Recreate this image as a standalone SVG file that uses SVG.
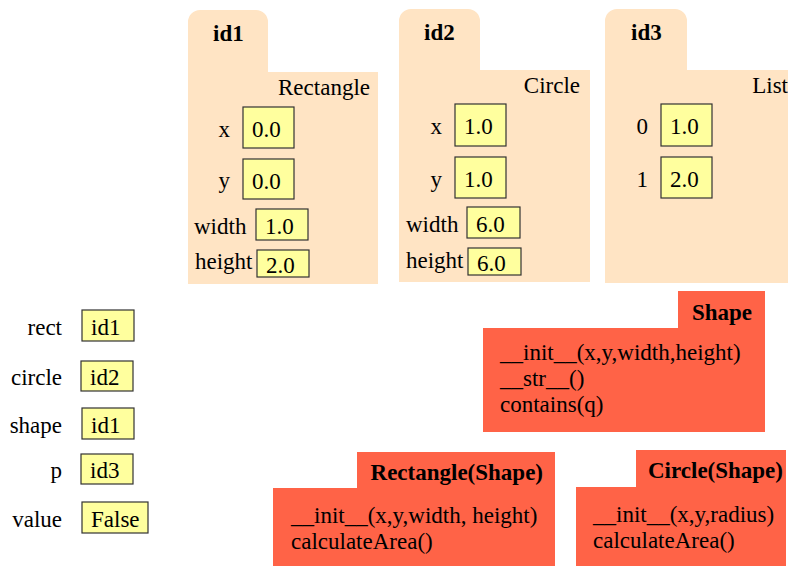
<svg xmlns="http://www.w3.org/2000/svg" width="788" height="567" viewBox="0 0 788 567" font-family="Liberation Serif, Tinos, Times New Roman, Times, serif" font-size="23">
<style>
.b{font-weight:bold}
.e{text-anchor:end}
.folder{fill:#FFE4C4}
.val{fill:#FFFF9E;stroke:#333;stroke-width:1.2}
.cls{fill:#FF6347}
</style>
<rect width="788" height="567" fill="#fff"/>
<g id="id1">
<path class="folder" d="M188,284 V22 a12,12 0 0 1 12,-12 H256 a12,12 0 0 1 12,12 V72 H378 V284 Z"/>
<text class="b" x="213" y="41">id1</text>
<text class="e" x="370" y="95">Rectangle</text>
<text class="e" x="230" y="137">x</text>
<rect class="val" x="243" y="107" width="51" height="41"/>
<text x="252" y="137">0.0</text>
<text class="e" x="230" y="188">y</text>
<rect class="val" x="243" y="159" width="51" height="40"/>
<text x="252" y="189">0.0</text>
<text x="194" y="234">width</text>
<rect class="val" x="256" y="209" width="52" height="31"/>
<text x="265" y="234">1.0</text>
<text x="195" y="269">height</text>
<rect class="val" x="257" y="250" width="52" height="27"/>
<text x="266" y="273">2.0</text>
</g>
<g id="id2">
<path class="folder" d="M399,282 V21 a12,12 0 0 1 12,-12 H468 a12,12 0 0 1 12,12 V70 H590 V282 Z"/>
<text class="b" x="424" y="40">id2</text>
<text class="e" x="580" y="93">Circle</text>
<text class="e" x="442" y="134">x</text>
<rect class="val" x="455" y="104" width="51" height="42"/>
<text x="464" y="134">1.0</text>
<text class="e" x="442" y="187">y</text>
<rect class="val" x="455" y="157" width="51" height="41"/>
<text x="464" y="187">1.0</text>
<text x="406" y="232">width</text>
<rect class="val" x="467" y="207" width="53" height="31"/>
<text x="476" y="232">6.0</text>
<text x="406" y="268">height</text>
<rect class="val" x="468" y="248" width="53" height="27"/>
<text x="477" y="271">6.0</text>
</g>
<g id="id3">
<path class="folder" d="M605,283 V21 a12,12 0 0 1 12,-12 H675 a12,12 0 0 1 12,12 V70 H788 V283 Z"/>
<text class="b" x="631" y="40">id3</text>
<text class="e" x="788" y="93">List</text>
<text class="e" x="648" y="134">0</text>
<rect class="val" x="661" y="104" width="51" height="42"/>
<text x="670" y="134">1.0</text>
<text class="e" x="648" y="187">1</text>
<rect class="val" x="661" y="157" width="51" height="41"/>
<text x="670" y="187">2.0</text>
</g>
<g id="vars">
<g id="var-rect"><text class="e" x="62" y="335">rect</text><rect class="val" x="82" y="310" width="52" height="31"/><text x="91" y="335">id1</text></g>
<g id="var-circle"><text class="e" x="62" y="385">circle</text><rect class="val" x="81" y="361" width="52" height="30"/><text x="90" y="385">id2</text></g>
<g id="var-shape"><text class="e" x="62" y="433">shape</text><rect class="val" x="82" y="408" width="52" height="31"/><text x="91" y="433">id1</text></g>
<g id="var-p"><text class="e" x="62" y="478">p</text><rect class="val" x="81" y="454" width="52" height="30"/><text x="90" y="478">id3</text></g>
<g id="var-value"><text class="e" x="62" y="527">value</text><rect class="val" x="82" y="502" width="66" height="31"/><text x="91" y="527">False</text></g>
</g>
<g id="class-shape">
<path class="cls" d="M678,291 H765 V432 H483 V328 H678 Z"/>
<text class="b e" x="752" y="320">Shape</text>
<text x="500" y="360">__init__(x,y,width,height)</text>
<text x="500" y="386">__str__()</text>
<text x="500" y="412">contains(q)</text>
</g>
<g id="class-rectangle">
<path class="cls" d="M357,452 H555 V566 H273 V488 H357 Z"/>
<text class="b e" x="543" y="480">Rectangle(Shape)</text>
<text x="291" y="523">__init__(x,y,width, height)</text>
<text x="291" y="549">calculateArea()</text>
</g>
<g id="class-circle">
<path class="cls" d="M636,450 H786 V566 H576 V487 H636 Z"/>
<text class="b e" x="783" y="478">Circle(Shape)</text>
<text x="593" y="522">__init__(x,y,radius)</text>
<text x="593" y="548">calculateArea()</text>
</g>
</svg>
